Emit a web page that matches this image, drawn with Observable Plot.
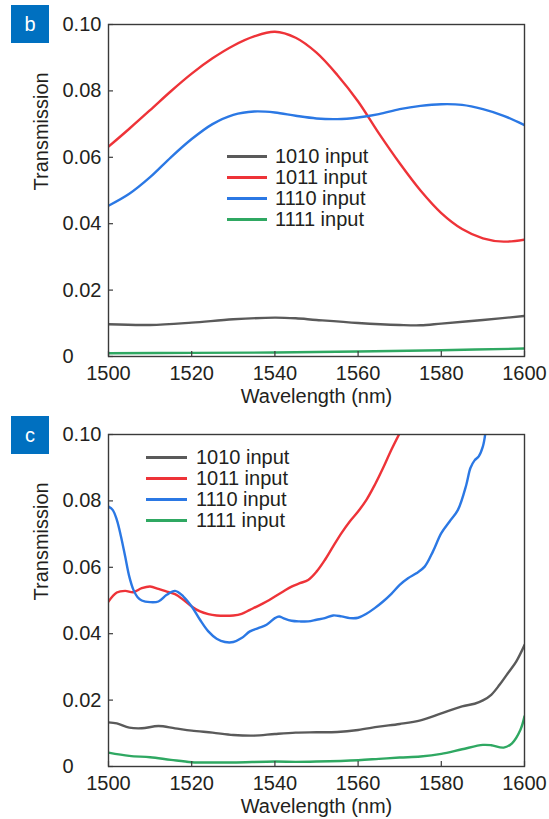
<!DOCTYPE html>
<html>
<head>
<meta charset="utf-8">
<script src="https://cdn.jsdelivr.net/npm/d3@7"></script>
<script src="https://cdn.jsdelivr.net/npm/@observablehq/plot@0.6"></script>
<style>
  html, body { margin: 0; padding: 0; background: #fff; }
  body { width: 549px; height: 819px; overflow: hidden; font-family: "Liberation Sans", Arial, sans-serif; color: #231f20; }
  .panel { position: relative; width: 549px; }
  .badge { position: absolute; left: 11px; width: 38px; height: 38px; background: #0070c0; color: #fff;
           font-size: 20px; line-height: 38px; text-align: center; }
  .legend { position: absolute; font-size: 20px; }
  .legend .row { position: absolute; left: 0; height: 21px; white-space: nowrap; }
  .legend .sw { position: absolute; left: 0; top: 9px; height: 3px; }
  .legend .lab { position: absolute; top: -1px; line-height: 22px; }
  svg { display: block; }
</style>
</head>
<body>
<div id="b" class="panel"></div>
<div id="c" class="panel"></div>
<script>
// ---- data ----
const seriesNames = ["1010 input", "1011 input", "1110 input", "1111 input"];
const seriesColors = ["#5a5a5a", "#ee3338", "#2b78e4", "#2fa862"];
const xTicks = [1500, 1520, 1540, 1560, 1580, 1600];
const yTicks = [0, 0.02, 0.04, 0.06, 0.08, 0.10];

// panel b
const b1010_x = [1500, 1510, 1520, 1530, 1540, 1545, 1550, 1560, 1570, 1575, 1580, 1590, 1600];
const b1010_y = [0.0097, 0.0095, 0.0102, 0.0112, 0.0117, 0.0115, 0.0110, 0.0101, 0.0095, 0.0094, 0.0099, 0.0110, 0.0122];
const b1011_x = [1500, 1505, 1510, 1515, 1520, 1525, 1530, 1535, 1540, 1545, 1550, 1555, 1560, 1565, 1570, 1575, 1580, 1585, 1590, 1595, 1600];
const b1011_y = [0.0632, 0.0686, 0.0742, 0.0799, 0.0852, 0.0898, 0.0936, 0.0964, 0.0978, 0.0960, 0.0915, 0.0848, 0.0768, 0.0672, 0.0582, 0.0500, 0.0432, 0.0384, 0.0356, 0.0346, 0.0352];
const b1110_x = [1500, 1505, 1510, 1515, 1520, 1525, 1530, 1535, 1540, 1545, 1550, 1555, 1560, 1565, 1570, 1575, 1580, 1585, 1590, 1595, 1600];
const b1110_y = [0.0454, 0.0490, 0.0540, 0.0600, 0.0655, 0.0700, 0.0728, 0.0738, 0.0735, 0.0725, 0.0717, 0.0715, 0.0720, 0.0730, 0.0745, 0.0755, 0.0760, 0.0758, 0.0745, 0.0725, 0.0697];
const b1111_x = [1500, 1520, 1540, 1560, 1580, 1600];
const b1111_y = [0.0010, 0.0011, 0.0012, 0.0015, 0.0019, 0.0024];

// panel c
const c1010_x = [1500, 1502, 1505, 1508, 1512, 1516, 1520, 1525, 1530, 1535, 1540, 1545, 1550, 1555, 1560, 1565, 1570, 1575, 1580, 1585, 1588, 1590, 1592, 1594, 1596, 1598, 1600];
const c1010_y = [0.0133, 0.0130, 0.0117, 0.0115, 0.0122, 0.0115, 0.0108, 0.0102, 0.0095, 0.0093, 0.0098, 0.0102, 0.0103, 0.0104, 0.0110, 0.0120, 0.0128, 0.0139, 0.0160, 0.0181, 0.0189, 0.0199, 0.0216, 0.0246, 0.0281, 0.0316, 0.0366];
const c1011_x = [1500, 1502, 1504, 1506, 1508, 1510, 1512, 1514, 1516, 1518, 1520, 1522, 1524, 1526, 1528, 1530, 1532, 1534, 1536, 1538, 1540, 1542, 1544, 1546, 1548, 1550, 1552, 1554, 1556, 1558, 1560, 1562, 1564, 1566, 1568, 1570];
const c1011_y = [0.0497, 0.0524, 0.0529, 0.0525, 0.0537, 0.0542, 0.0535, 0.0527, 0.0519, 0.0502, 0.0482, 0.0467, 0.0459, 0.0455, 0.0454, 0.0455, 0.0460, 0.0472, 0.0484, 0.0497, 0.0512, 0.0527, 0.0542, 0.0552, 0.0562, 0.0587, 0.0622, 0.0663, 0.0703, 0.0738, 0.0768, 0.0803, 0.0848, 0.0899, 0.0954, 0.1004];
const c1110_x = [1500, 1501, 1502, 1503, 1504, 1505, 1506, 1507, 1508, 1510, 1512, 1514, 1516, 1518, 1520, 1522, 1524, 1526, 1528, 1530, 1532, 1534, 1536, 1538, 1540, 1541, 1542, 1544, 1546, 1548, 1550, 1552, 1554, 1556, 1558, 1560, 1562, 1564, 1566, 1568, 1570, 1572, 1574, 1576, 1578, 1580, 1582, 1584, 1586, 1587, 1588, 1589, 1590, 1590.6];
const c1110_y = [0.0783, 0.0773, 0.0743, 0.0693, 0.0633, 0.0572, 0.0532, 0.0510, 0.0500, 0.0495, 0.0497, 0.0517, 0.0529, 0.0512, 0.0482, 0.0442, 0.0407, 0.0385, 0.0375, 0.0375, 0.0387, 0.0407, 0.0417, 0.0427, 0.0447, 0.0452, 0.0447, 0.0439, 0.0437, 0.0437, 0.0442, 0.0447, 0.0455, 0.0452, 0.0447, 0.0448, 0.0460, 0.0477, 0.0497, 0.0520, 0.0547, 0.0567, 0.0582, 0.0602, 0.0648, 0.0703, 0.0738, 0.0773, 0.0848, 0.0899, 0.0922, 0.0934, 0.0964, 0.1005];
const c1111_x = [1500, 1505, 1510, 1515, 1520, 1525, 1530, 1540, 1545, 1550, 1560, 1565, 1570, 1575, 1580, 1585, 1590, 1592, 1595, 1597, 1599, 1600];
const c1111_y = [0.0042, 0.0032, 0.0028, 0.0020, 0.0013, 0.0012, 0.0012, 0.0015, 0.0014, 0.0015, 0.0019, 0.0023, 0.0027, 0.0030, 0.0038, 0.0052, 0.0065, 0.0064, 0.0057, 0.0070, 0.0110, 0.0151];

function rows(xs, ys, s) { return xs.map((x, i) => ({x, y: ys[i], s})); }

const panelB = [
  ...rows(b1010_x, b1010_y, seriesNames[0]),
  ...rows(b1011_x, b1011_y, seriesNames[1]),
  ...rows(b1110_x, b1110_y, seriesNames[2]),
  ...rows(b1111_x, b1111_y, seriesNames[3])
];
const panelC = [
  ...rows(c1010_x, c1010_y, seriesNames[0]),
  ...rows(c1011_x, c1011_y, seriesNames[1]),
  ...rows(c1110_x, c1110_y, seriesNames[2]),
  ...rows(c1111_x, c1111_y, seriesNames[3])
];

const ink = "#231f20";
const frameInk = "#3a3a3a";

function makePanel(id, letter, data, height, badgeTop, legend) {
  const chart = Plot.plot({
    width: 549,
    height,
    marginLeft: 108,
    marginRight: 25,
    marginTop: 24,
    marginBottom: height - 24 - 332,
    style: {fontSize: "20px", fontFamily: "'Liberation Sans', Arial, sans-serif", color: ink, background: "transparent"},
    x: {domain: [1500, 1600], axis: null},
    y: {domain: [0, 0.10], axis: null},
    color: {domain: seriesNames, range: seriesColors},
    marks: [
      Plot.line(data, {x: "x", y: "y", z: "s", stroke: "s", strokeWidth: 2.4, curve: "catmull-rom", clip: true}),
      Plot.frame({stroke: frameInk, strokeWidth: 1.4}),
      Plot.axisX({ticks: xTicks, tickSize: -5, tickPadding: 14, stroke: frameInk, strokeWidth: 1.2, fill: ink, label: null, tickFormat: d => String(d)}),
      Plot.axisY({ticks: yTicks, tickSize: -5, tickPadding: 51, textAnchor: "start", stroke: frameInk, strokeWidth: 1.2, fill: ink, label: null, tickFormat: d => d === 0 ? "0" : d.toFixed(2)}),
      Plot.text(["Wavelength (nm)"], {frameAnchor: "bottom", dy: 32, lineAnchor: "top", fill: ink, fontSize: 20}),
      Plot.text(["Transmission"], {frameAnchor: "left", dx: -67, rotate: -90, fill: ink, fontSize: 20})
    ]
  });
  const host = document.getElementById(id);
  host.style.height = height + "px";
  host.appendChild(chart);
  const badge = document.createElement("div");
  badge.className = "badge";
  badge.style.top = badgeTop + "px";
  badge.textContent = letter;
  host.appendChild(badge);
  const lg = document.createElement("div");
  lg.className = "legend";
  lg.style.left = legend.left + "px";
  lg.style.top = legend.top + "px";
  seriesNames.forEach((name, i) => {
    const r = document.createElement("div");
    r.className = "row";
    r.style.top = (i * 21) + "px";
    const sw = document.createElement("div");
    sw.className = "sw";
    sw.style.width = legend.lineW + "px";
    sw.style.background = seriesColors[i];
    const t = document.createElement("div");
    t.className = "lab";
    t.style.left = legend.textX + "px";
    t.textContent = name;
    r.appendChild(sw); r.appendChild(t);
    lg.appendChild(r);
  });
  host.appendChild(lg);
}

makePanel("b", "b", panelB, 410, 5, {left: 227, top: 146, lineW: 40, textX: 48});
makePanel("c", "c", panelC, 409, 6, {left: 146, top: 37, lineW: 41, textX: 50});
</script>
</body>
</html>
